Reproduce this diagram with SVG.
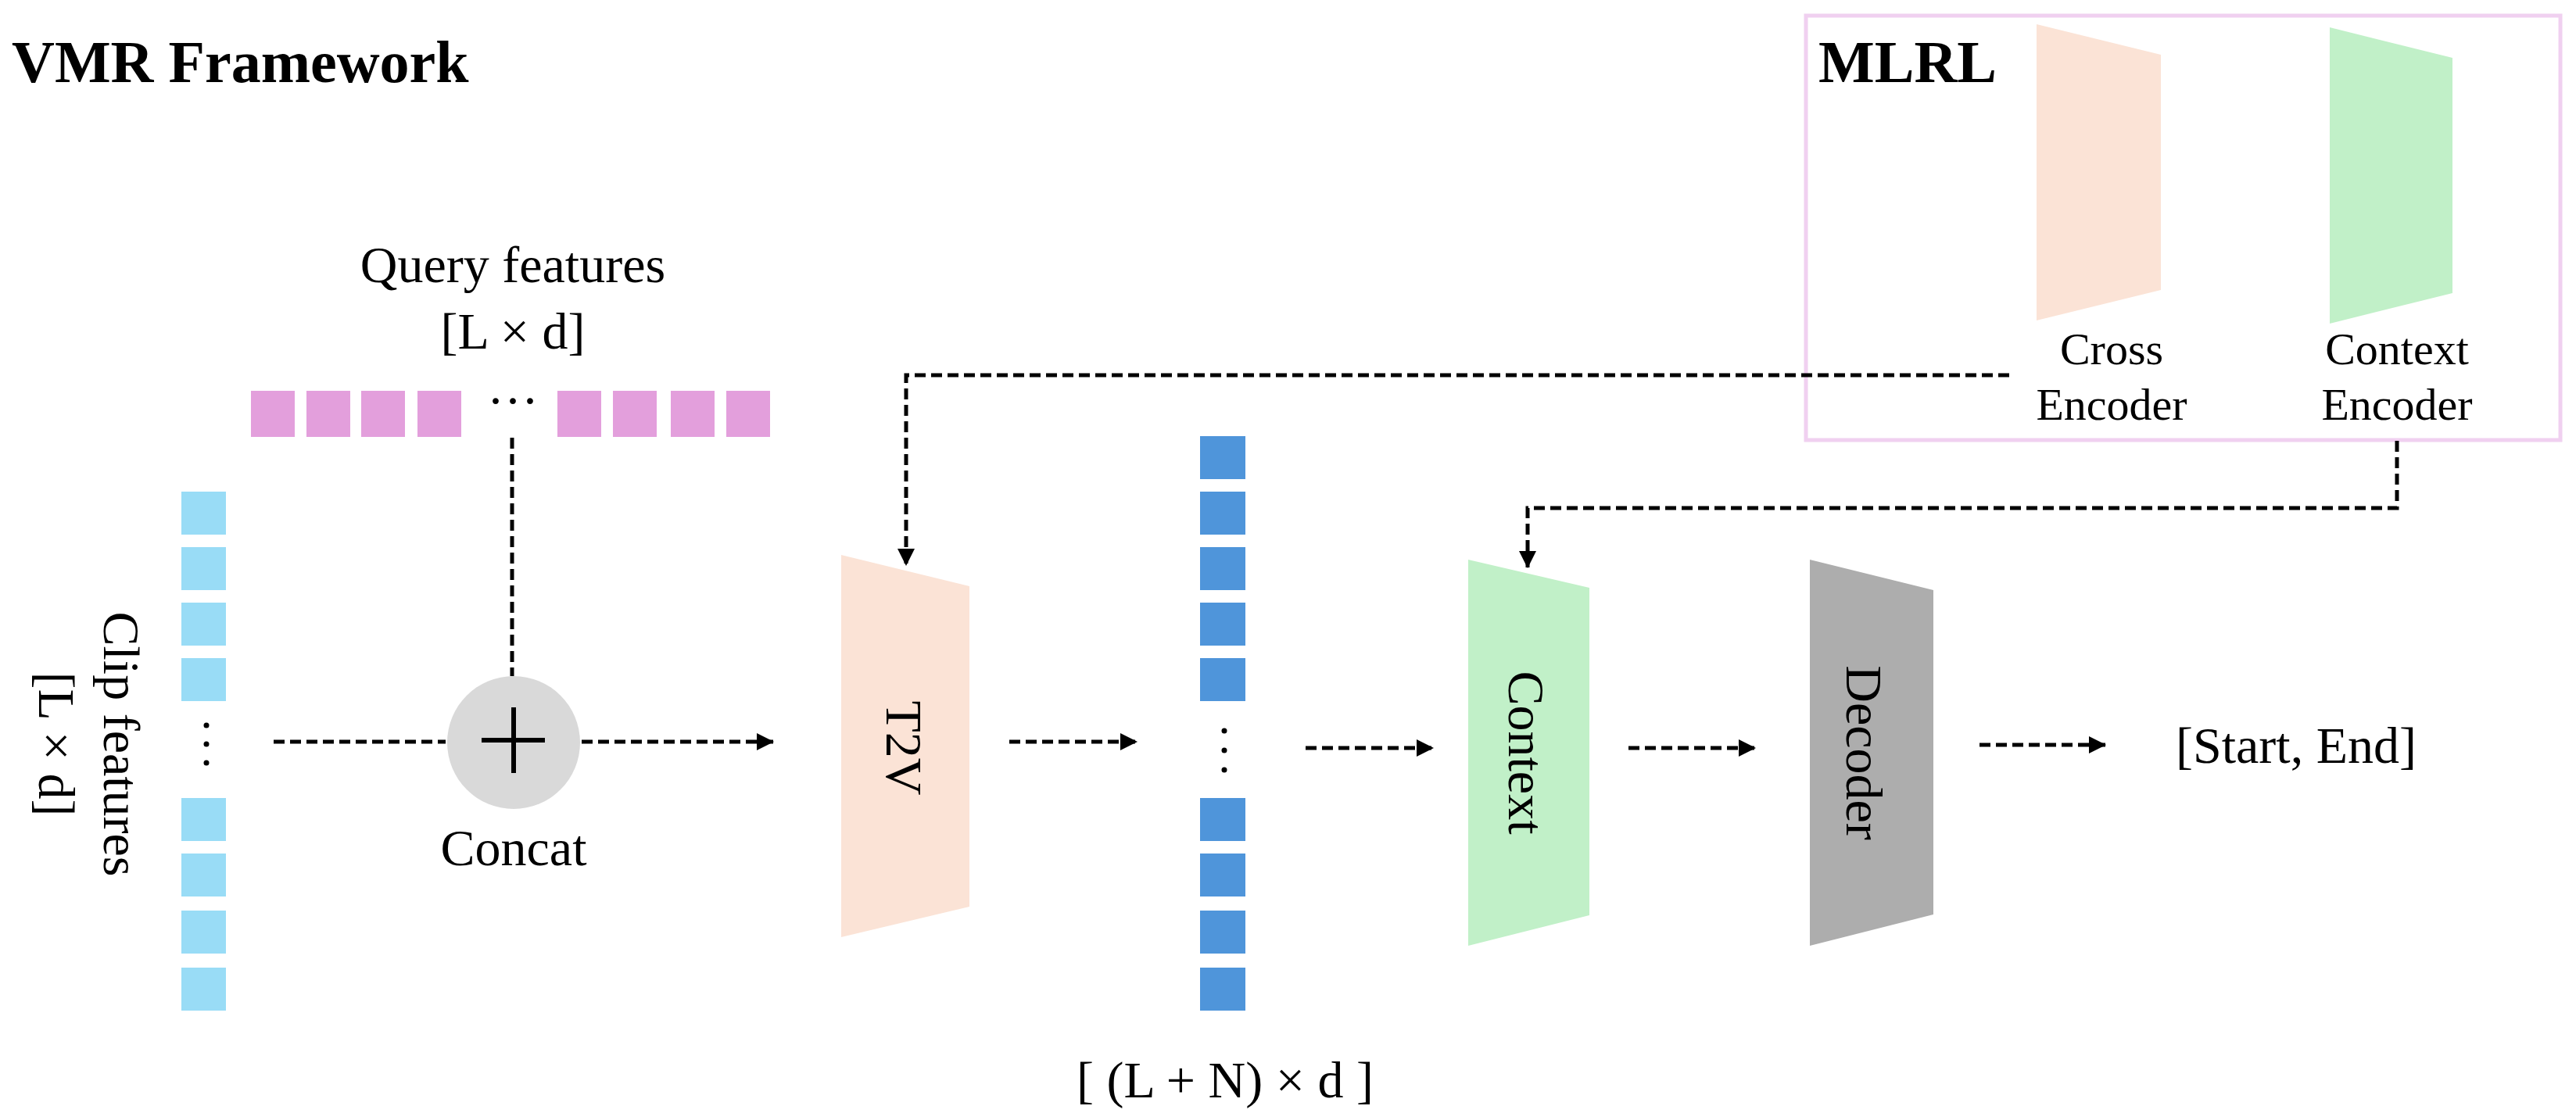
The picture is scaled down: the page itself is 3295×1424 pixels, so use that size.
<svg xmlns="http://www.w3.org/2000/svg" width="3295" height="1424" viewBox="0 0 3295 1424">
<style>
text{font-family:"Liberation Serif","Times New Roman",serif;fill:#000}
.t{font-size:66px}
.b{font-size:76px;font-weight:bold}
.s{font-size:58px}
.q{fill:#e39fdc}
.c{fill:#99dcf6}
.d{fill:#4f95da}
.dash{fill:none;stroke:#000;stroke-width:5;stroke-dasharray:14 7}
</style>
<defs>
<marker id="ah" viewBox="0 0 10 10" refX="10" refY="5" markerWidth="4.5" markerHeight="4.5" orient="auto" markerUnits="strokeWidth">
<path d="M0,0 L10,5 L0,10 z" fill="#000"/>
</marker>
</defs>
<rect width="3295" height="1424" fill="#fff"/>
<text class="b" x="15" y="105">VMR Framework</text>

<g id="mlrl">
<rect x="2310" y="20" width="965" height="543" fill="none" stroke="#f0d0f0" stroke-width="5"/>
<text class="b" x="2326" y="105">MLRL</text>
</g>
<g id="cross-encoder">
<polygon points="2605,31 2764,70 2764,371 2605,410" fill="#fbe3d6"/>
<text class="s" x="2701" y="466" text-anchor="middle">Cross</text>
<text class="s" x="2701" y="537" text-anchor="middle">Encoder</text>
</g>
<g id="context-encoder">
<polygon points="2980,35 3137,74 3137,375 2980,414" fill="#c1f0c8"/>
<text class="s" x="3066" y="466" text-anchor="middle">Context</text>
<text class="s" x="3066" y="537" text-anchor="middle">Encoder</text>
</g>

<g id="query-features">
<text class="t" x="656" y="361" text-anchor="middle">Query features</text>
<text class="t" x="656" y="446" text-anchor="middle">[L × d]</text>
<rect class="q" x="321" y="500" width="56" height="59"/>
<rect class="q" x="392" y="500" width="56" height="59"/>
<rect class="q" x="462" y="500" width="56" height="59"/>
<rect class="q" x="534" y="500" width="56" height="59"/>
<text class="t" x="656" y="535" text-anchor="middle">···</text>
<rect class="q" x="713" y="500" width="56" height="59"/>
<rect class="q" x="784" y="500" width="56" height="59"/>
<rect class="q" x="858" y="500" width="56" height="59"/>
<rect class="q" x="929" y="500" width="56" height="59"/>
</g>

<g id="clip-features">
<rect class="c" x="232" y="629" width="57" height="55"/>
<rect class="c" x="232" y="700" width="57" height="55"/>
<rect class="c" x="232" y="771" width="57" height="55"/>
<rect class="c" x="232" y="842" width="57" height="55"/>
<circle cx="264" cy="928" r="3.5"/><circle cx="264" cy="952" r="3.5"/><circle cx="264" cy="976" r="3.5"/>
<rect class="c" x="232" y="1021" width="57" height="55"/>
<rect class="c" x="232" y="1092" width="57" height="55"/>
<rect class="c" x="232" y="1165" width="57" height="55"/>
<rect class="c" x="232" y="1238" width="57" height="55"/>
<text class="t" transform="translate(133,952) rotate(90)" text-anchor="middle">Clip features</text>
<text class="t" transform="translate(50,952) rotate(90)" text-anchor="middle">[L × d]</text>
</g>

<g id="concat">
<circle cx="657" cy="950" r="85" fill="#d9d9d9"/>
<path d="M616,947 H697 M657,905 V989" stroke="#000" stroke-width="6"/>
<text class="t" x="657" y="1107" text-anchor="middle">Concat</text>
</g>

<g id="t2v">
<polygon points="1076,710 1240,750 1240,1160 1076,1199" fill="#fbe3d6"/>
<text class="t" transform="translate(1134,957) rotate(90)" text-anchor="middle" font-size="72">T2V</text>
</g>

<g id="joint-features">
<rect class="d" x="1535" y="558" width="58" height="55"/>
<rect class="d" x="1535" y="629" width="58" height="55"/>
<rect class="d" x="1535" y="700" width="58" height="55"/>
<rect class="d" x="1535" y="771" width="58" height="55"/>
<rect class="d" x="1535" y="842" width="58" height="55"/>
<circle cx="1566" cy="935" r="3.5"/><circle cx="1566" cy="960" r="3.5"/><circle cx="1566" cy="985" r="3.5"/>
<rect class="d" x="1535" y="1021" width="58" height="55"/>
<rect class="d" x="1535" y="1092" width="58" height="55"/>
<rect class="d" x="1535" y="1165" width="58" height="55"/>
<rect class="d" x="1535" y="1238" width="58" height="55"/>
<text class="t" x="1567" y="1404" text-anchor="middle">[ (L + N) × d ]</text>
</g>

<g id="context">
<polygon points="1878,716 2033,752 2033,1171 1878,1210" fill="#c1f0c8"/>
<text class="t" transform="translate(1930,963) rotate(90)" text-anchor="middle" font-size="76">Context</text>
</g>

<g id="decoder">
<polygon points="2315,716 2473,755 2473,1170 2315,1210" fill="#adadad"/>
<text class="t" transform="translate(2362,963) rotate(90)" text-anchor="middle" font-size="76">Decoder</text>
</g>

<g id="output">
<text class="t" x="2783" y="976">[Start, End]</text>
</g>

<g id="connectors">
<path class="dash" d="M655,560 V865"/>
<path class="dash" d="M350,949 H570"/>
<path class="dash" d="M744,949 H990" marker-end="url(#ah)"/>
<path class="dash" d="M1291,949 H1455" marker-end="url(#ah)"/>
<path class="dash" d="M1670,957 H1834" marker-end="url(#ah)"/>
<path class="dash" d="M2083,957 H2246" marker-end="url(#ah)"/>
<path class="dash" d="M2532,953 H2694" marker-end="url(#ah)"/>
<path class="dash" d="M2570,480 H1159 V724" marker-end="url(#ah)"/>
<path class="dash" d="M3066,564 V650 H1954 V727" marker-end="url(#ah)"/>
</g>
</svg>
